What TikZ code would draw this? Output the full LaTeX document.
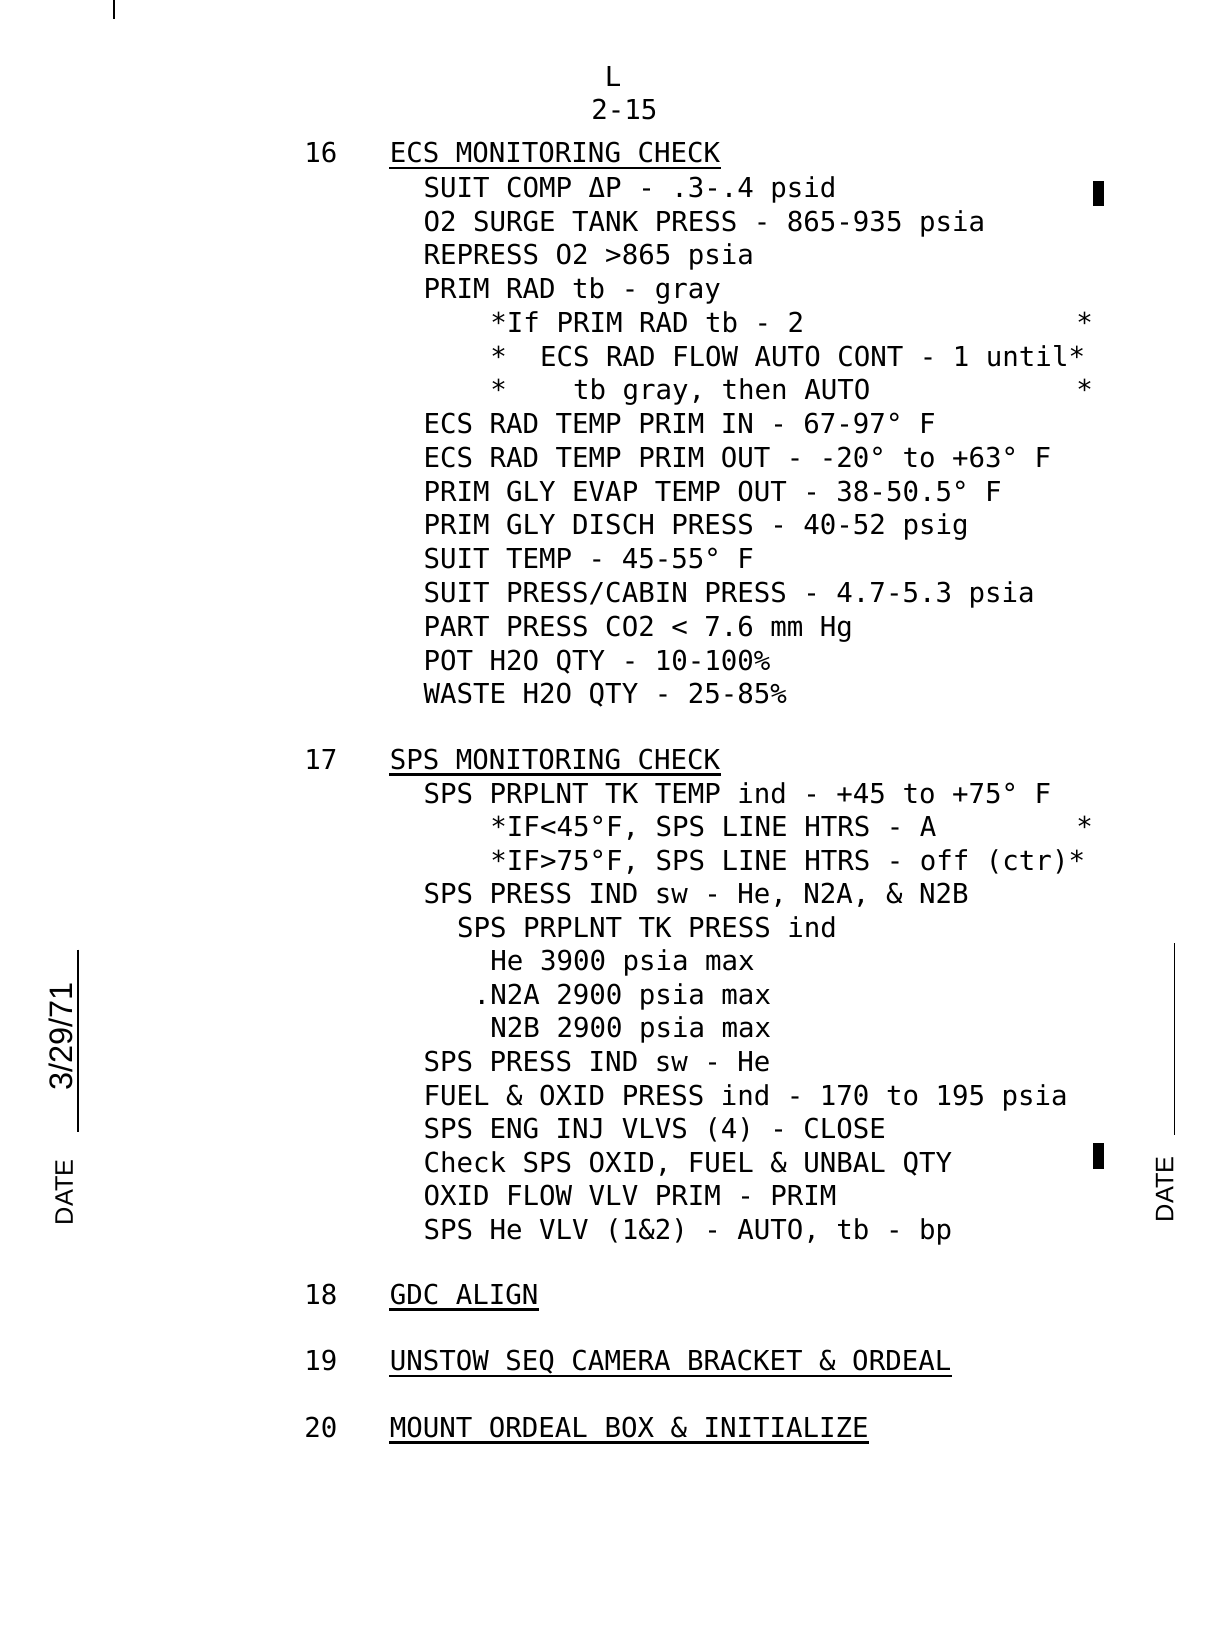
\documentclass[tikz,border=0pt]{standalone}
\usepackage{fontspec}
\setmainfont{DejaVu Sans Mono}
\newfontfamily\formfont{Liberation Sans}
\newcommand{\typer}{\fontsize{13.0}{14}\selectfont\frenchspacing}
\begin{document}
\begin{tikzpicture}[x=0.5pt,y=-0.5pt,
  ln/.style={anchor=base west,inner sep=0pt,font=\typer},
  uline/.style={line width=1.1pt},
  stamp/.style={anchor=base,inner sep=0pt,rotate=90,font=\formfont\fontsize{12}{12}\selectfont},
  rule/.style={line width=0.7pt},
  bar/.style={fill=black}]
\path[use as bounding box,fill=white] (0,0) rectangle (1160,1558);
\draw[rule] (108,0) -- (108,18);
\node[ln,anchor=base] (lt) at (581,82) {L};
\node[ln] (pg) at (560,113) {2-15};
% 16
\node[ln] (n16) at (288,154) {16};
\node[ln] (h16) at (369,154) {ECS MONITORING CHECK};
\draw[uline] ([yshift=-2.5pt]h16.base west) -- ([yshift=-2.5pt]h16.base east);
\foreach \c/\t [count=\i] in {0/{SUIT COMP ΔP - .3-.4 psid},
    0/{O2 SURGE TANK PRESS - 865-935 psia},
    0/{REPRESS O2 >865 psia},
    0/{PRIM RAD tb - gray},
    4/{*If PRIM RAD tb - 2},
    4/{*~~ECS RAD FLOW AUTO CONT - 1 until*},
    4/{*~~~~tb gray, then AUTO},
    0/{ECS RAD TEMP PRIM IN - 67-97° F},
    0/{ECS RAD TEMP PRIM OUT - -20° to +63° F},
    0/{PRIM GLY EVAP TEMP OUT - 38-50.5° F},
    0/{PRIM GLY DISCH PRESS - 40-52 psig},
    0/{SUIT TEMP - 45-55° F},
    0/{SUIT PRESS/CABIN PRESS - 4.7-5.3 psia},
    0/{PART PRESS CO2 < 7.6 mm Hg},
    0/{POT H2O QTY - 10-100\%},
    0/{WASTE H2O QTY - 25-85\%}}
  \node[ln] (ecs\i) at (401+\c*15.85,187+\i*32-32) {\t};
\node[ln] (st1) at (1019.75,315) {*};
\node[ln] (st2) at (1019.75,379) {*};
\fill[bar] (1036,172) rectangle (1046,195);
% 17
\node[ln] (n17) at (288,729) {17};
\node[ln] (h17) at (369,729) {SPS MONITORING CHECK};
\draw[uline] ([yshift=-2.5pt]h17.base west) -- ([yshift=-2.5pt]h17.base east);
\foreach \c/\t [count=\i] in {0/{SPS PRPLNT TK TEMP ind - +45 to +75° F},
    4/{*IF<45°F, SPS LINE HTRS - A},
    4/{*IF>75°F, SPS LINE HTRS - off (ctr)*},
    0/{SPS PRESS IND sw - He, N2A, \& N2B},
    2/{SPS PRPLNT TK PRESS ind},
    4/{He 3900 psia max},
    3/{.N2A 2900 psia max},
    4/{N2B 2900 psia max},
    0/{SPS PRESS IND sw - He},
    0/{FUEL \& OXID PRESS ind - 170 to 195 psia},
    0/{SPS ENG INJ VLVS (4) - CLOSE},
    0/{Check SPS OXID, FUEL \& UNBAL QTY},
    0/{OXID FLOW VLV PRIM - PRIM},
    0/{SPS He VLV (1\&2) - AUTO, tb - bp}}
  \node[ln] (sps\i) at (401+\c*15.85,761+\i*31.8-31.8) {\t};
\node[ln] (st3) at (1019.75,792.8) {*};
\fill[bar] (1036,1083) rectangle (1046,1108);
% 18-20
\foreach \n/\t/\y in {18/{GDC ALIGN}/1236,
    19/{UNSTOW SEQ CAMERA BRACKET \& ORDEAL}/1299,
    20/{MOUNT ORDEAL BOX \& INITIALIZE}/1362}{
  \node[ln] (n\n) at (288,\y) {\n};
  \node[ln] (h\n) at (369,\y) {\t};
  \draw[uline] ([yshift=-2.5pt]h\n.base west) -- ([yshift=-2.5pt]h\n.base east);
}
% margins
\draw[rule] (74,900) -- (74,1073);
\node[stamp,font=\formfont\fontsize{15.4}{16}\selectfont] (dt) at (69,982) {3/29/71};
\node[stamp] (dl) at (69,1130) {DATE};
\draw[rule] (1113,894) -- (1113,1076);
\node[stamp] (dr) at (1112,1127) {DATE};
\end{tikzpicture}
\end{document}
